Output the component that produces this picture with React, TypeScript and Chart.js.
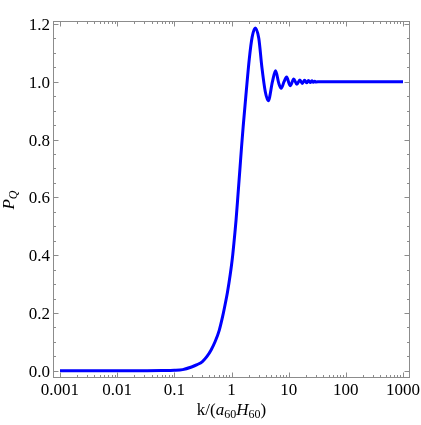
import { useEffect, useRef, useState } from 'react';
import { Chart, registerables } from 'chart.js';

Chart.register(...registerables);

// k/(a60 H60) values and P_Q values
const kValues = [
  0.001, 0.003, 0.01, 0.03, 0.06, 0.1, 0.14, 0.2, 0.25, 0.31, 0.37, 0.44, 0.52, 0.61, 0.7, 0.8, 0.85, 0.9, 0.95,
  1.0, 1.05, 1.1, 1.15, 1.2, 1.3, 1.4, 1.5, 1.6, 1.8, 2.05, 2.3, 2.6, 3.0, 3.4, 3.9, 4.4, 5.2, 5.9, 6.7, 7.4,
  8.3, 9.2, 10.6, 12.3, 13.9, 15.7, 17.3, 19.0, 20.6, 22.2, 23.8, 25.4, 27.0, 28.6, 30.2, 35, 50, 100, 300, 1000,
];
const pqValues = [
  0, 0, 0.0002, 0.0004, 0.0008, 0.0016, 0.004, 0.013, 0.021, 0.032, 0.049, 0.072, 0.102, 0.14, 0.188, 0.244, 0.272, 0.302, 0.333,
  0.365, 0.4, 0.44, 0.48, 0.52, 0.61, 0.695, 0.775, 0.845, 0.96, 1.08, 1.155, 1.186, 1.15, 1.05, 0.965, 0.934, 1.0, 1.038, 0.995, 0.977,
  1.0, 1.016, 0.986, 1.009, 0.991, 1.006, 0.994, 1.005, 0.996, 1.004, 0.997, 1.003, 0.998, 1.002, 0.999, 1.0, 1.0, 1.0, 1.0, 1.0,
];

const xTickValues = [0.001, 0.01, 0.1, 1, 10, 100, 1000];
const xTickLabels = ['0.001', '0.01', '0.1', '1', '10', '100', '1000'];
const yTickValues = [0, 0.2, 0.4, 0.6, 0.8, 1.0, 1.2];
const yTickLabels = ['0.0', '0.2', '0.4', '0.6', '0.8', '1.0', '1.2'];
const yMinorTickValues = [
  0.05, 0.1, 0.15, 0.25, 0.3, 0.35, 0.45, 0.5, 0.55, 0.65, 0.7, 0.75, 0.85, 0.9, 0.95, 1.05, 1.1, 1.15,
];

const X_MIN = Math.pow(10, -3.122);
const X_MAX = Math.pow(10, 3.122);
const Y_MIN = -0.025;
const Y_MAX = 1.21;

const FRAME = '#8c8c8c';
const FONT = "'Liberation Serif'";
const FS = 17;

const framePlugin = {
  id: 'mmaFrame',
  afterDraw(chart: any) {
    const { ctx, chartArea: a, scales } = chart;
    const xs = scales.x;
    const ys = scales.y;
    ctx.save();
    ctx.strokeStyle = FRAME;
    ctx.lineWidth = 1;
    ctx.strokeRect(Math.round(a.left) + 0.5, Math.round(a.top) + 0.5, Math.round(a.right - a.left) - 1, Math.round(a.bottom - a.top) - 1);

    const L = Math.round(a.left) + 0.5;
    const R = Math.round(a.right) - 0.5;
    const T = Math.round(a.top) + 0.5;
    const B = Math.round(a.bottom) - 0.5;
    const major = 5;
    const minor = 2.5;

    const vline = (x: number, len: number) => {
      const px = Math.round(x) + 0.5;
      ctx.beginPath();
      ctx.moveTo(px, B);
      ctx.lineTo(px, B - len);
      ctx.moveTo(px, T);
      ctx.lineTo(px, T + len);
      ctx.stroke();
    };
    const hline = (y: number, len: number) => {
      const py = Math.round(y) + 0.5;
      ctx.beginPath();
      ctx.moveTo(L, py);
      ctx.lineTo(L + len, py);
      ctx.moveTo(R, py);
      ctx.lineTo(R - len, py);
      ctx.stroke();
    };

    xTickValues.forEach((v) => vline(xs.getPixelForValue(v), major));
    xTickValues.forEach((v) => {
      for (let m = 2; m <= 9; m++) {
        const mv = v * m;
        if (mv < X_MAX) vline(xs.getPixelForValue(mv), minor);
      }
    });
    yTickValues.forEach((v) => hline(ys.getPixelForValue(v), major));
    yMinorTickValues.forEach((v) => hline(ys.getPixelForValue(v), minor));
    ctx.restore();
  },
};

type Layout = {
  left: number;
  right: number;
  top: number;
  bottom: number;
  xs: number[];
  ys: number[];
};

export default function App() {
  const canvasRef = useRef<HTMLCanvasElement | null>(null);
  const [layout, setLayout] = useState<Layout | null>(null);

  useEffect(() => {
    document.body.style.margin = '0';
    const canvas = canvasRef.current;
    if (!canvas) return;
    const chart = new Chart(canvas, {
      type: 'line',
      data: {
        datasets: [
          {
            data: kValues.map((k, i) => ({ x: k, y: pqValues[i] })),
            borderColor: '#0000ff',
            borderWidth: 3,
            pointRadius: 0,
            fill: false,
            cubicInterpolationMode: 'monotone',
          },
        ],
      },
      options: {
        animation: false,
        responsive: false,
        devicePixelRatio: 1,
        layout: { padding: { left: 53, right: 11, top: 21, bottom: 47 } },
        plugins: { legend: { display: false }, tooltip: { enabled: false } },
        scales: {
          x: { type: 'logarithmic', min: X_MIN, max: X_MAX, display: false },
          y: { type: 'linear', min: Y_MIN, max: Y_MAX, display: false },
        },
      },
      plugins: [framePlugin],
    } as any);
    const a = chart.chartArea;
    setLayout({
      left: a.left,
      right: a.right,
      top: a.top,
      bottom: a.bottom,
      xs: xTickValues.map((v) => chart.scales.x.getPixelForValue(v)),
      ys: yTickValues.map((v) => chart.scales.y.getPixelForValue(v)),
    });
    return () => chart.destroy();
  }, []);

  const textBase: any = {
    position: 'absolute',
    fontFamily: FONT,
    fontSize: FS,
    lineHeight: `${FS}px`,
    color: '#000',
    whiteSpace: 'nowrap',
  };

  return (
    <div style={{ position: 'relative', width: 421, height: 425, background: '#fff', overflow: 'hidden', fontFamily: FONT }}>
      <canvas ref={canvasRef} width={421} height={425} style={{ display: 'block' }} />
      {layout && (
        <>
          {xTickLabels.map((t, i) => (
            <div key={'x' + t} style={{ ...textBase, left: layout.xs[i], top: layout.bottom + 10.5, transform: 'translate(-50%, -50%)' }}>
              {t}
            </div>
          ))}
          {yTickLabels.map((t, i) => (
            <div key={'y' + t} style={{ ...textBase, right: 421 - (layout.left - 3), top: layout.ys[i], transform: 'translateY(-50%)' }}>
              {t}
            </div>
          ))}
          <div
            style={{
              ...textBase,
              left: (layout.left + layout.right) / 2,
              top: 415 - 14.25,
              transform: 'translateX(-50%)',
            }}
          >
            k/(<i>a</i>
            <span style={{ fontSize: 12, position: 'relative', top: 3 }}>60</span>
            <i>H</i>
            <span style={{ fontSize: 12, position: 'relative', top: 3 }}>60</span>)
          </div>
          <div
            style={{
              ...textBase,
              left: 8.5,
              top: (layout.top + layout.bottom) / 2,
              transform: 'translate(-50%, -50%) rotate(-90deg)',
            }}
          >
            <i>P</i>
            <i style={{ fontSize: 12, position: 'relative', top: 3 }}>Q</i>
          </div>
        </>
      )}
    </div>
  );
}
